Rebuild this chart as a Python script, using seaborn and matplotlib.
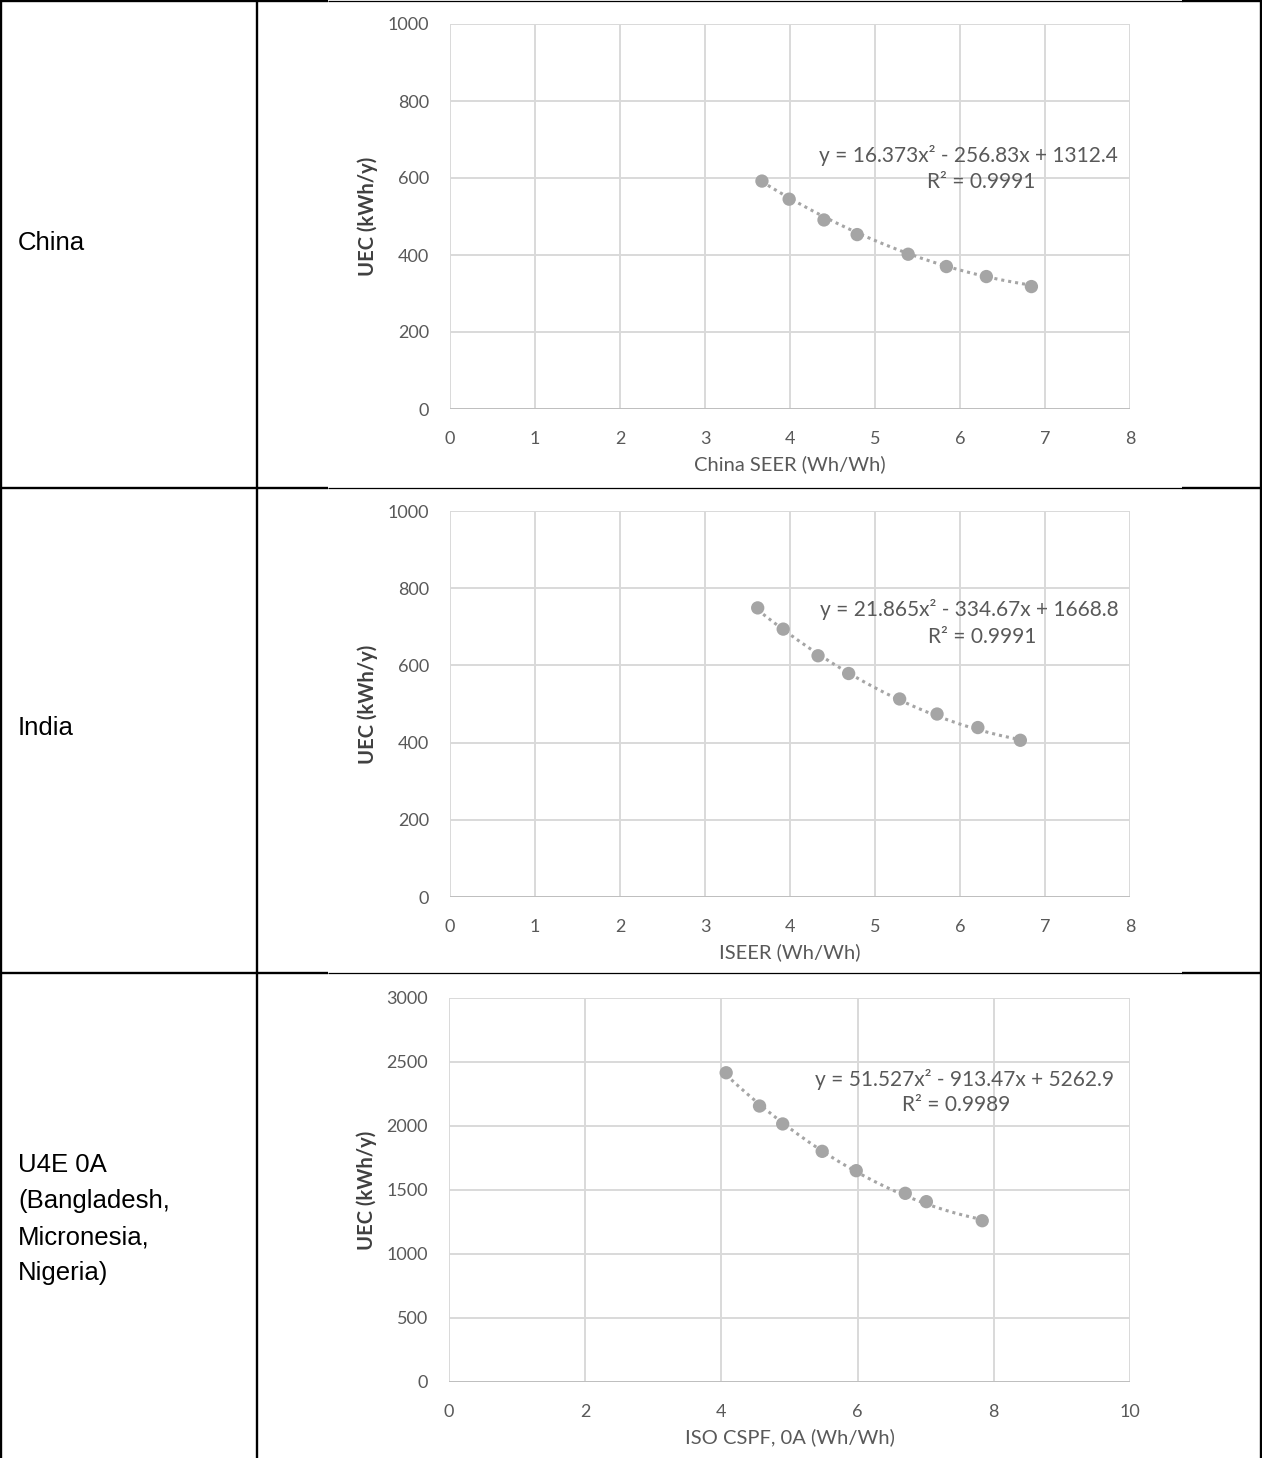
import numpy as np
import pandas as pd
import matplotlib
matplotlib.use("Agg")
import matplotlib.pyplot as plt
from matplotlib.lines import Line2D
import seaborn as sns

# ---- data -----------------------------------------------------------------
row_labels = ["China", "India", "U4E 0A\n(Bangladesh,\nMicronesia,\nNigeria)"]
x_titles = ["China SEER (Wh/Wh)", "ISEER (Wh/Wh)", "ISO CSPF, 0A (Wh/Wh)"]
y_title = "UEC (kWh/y)"

china_seer = [3.67, 3.99, 4.40, 4.79, 5.39, 5.84, 6.31, 6.84]
china_uec = [592, 545, 491, 453, 402, 370, 344, 318]

india_iseer = [3.62, 3.92, 4.33, 4.69, 5.29, 5.73, 6.21, 6.71]
india_uec = [749, 694, 625, 579, 513, 474, 439, 406]

u4e_cspf = [4.07, 4.56, 4.90, 5.48, 5.98, 6.70, 7.01, 7.83]
u4e_uec = [2416, 2156, 2016, 1802, 1651, 1474, 1409, 1260]

# quadratic trendline coefficients (a, b, c) and R² for each panel
china_fit = [16.373, -256.83, 1312.4]
india_fit = [21.865, -334.67, 1668.8]
u4e_fit = [51.527, -913.47, 5262.9]
r_squared = ["0.9991", "0.9991", "0.9989"]

x_ticks = [list(range(0, 9)), list(range(0, 9)), list(range(0, 11, 2))]
y_ticks = [list(range(0, 1001, 200)), list(range(0, 1001, 200)), list(range(0, 3001, 500))]

panels = [
    (china_seer, china_uec, china_fit),
    (india_iseer, india_uec, india_fit),
    (u4e_cspf, u4e_uec, u4e_fit),
]

# ---- style ----------------------------------------------------------------
sns.set_theme(style="white")
plt.rcParams["font.family"] = ["Lato", "DejaVu Sans"]

W, H = 1262, 1458
fig = plt.figure(figsize=(W / 100, H / 100), dpi=100)


def fx(px):
    return px / W


def fy(py):
    return 1 - py / H


TEXT = "#595959"
GRID = "#d9d9d9"
MARK = "#a5a5a5"

# axes boxes in pixels: left, top, right, bottom
boxes = [(450, 24, 1130, 409), (450, 511, 1130, 897), (449, 998, 1130, 1382)]
eq_pos = [(968, 155, 981, 182), (969, 610, 982, 637), (964, 1080, 956, 1105)]
row_label_y = [243, 728, 1219]

for i, ((xs, ys, coef), (l, t, r, b)) in enumerate(zip(panels, boxes)):
    ax = fig.add_axes([fx(l), fy(b), fx(r) - fx(l), fy(t) - fy(b)])
    df = pd.DataFrame({"x": xs, "y": ys})

    # trendline from the stated quadratic
    xt = np.linspace(min(xs), max(xs), 200)
    trend = pd.DataFrame({"x": xt, "y": np.polyval(coef, xt)})
    sns.lineplot(data=trend, x="x", y="y", ax=ax, color=MARK, lw=2.2,
                 linestyle=(0, (1, 1.3)), zorder=3)
    sns.scatterplot(data=df, x="x", y="y", ax=ax, color=MARK, s=92,
                    edgecolor="none", zorder=4)

    ax.set_xlim(x_ticks[i][0], x_ticks[i][-1])
    ax.set_ylim(y_ticks[i][0], y_ticks[i][-1])
    ax.set_xticks(x_ticks[i])
    ax.set_yticks(y_ticks[i])
    ax.grid(True, color=GRID, lw=1.4)
    for s in ax.spines.values():
        s.set_visible(False)
    ax.axhline(0, color="#bfbfbf", lw=1.4, zorder=2)
    ax.tick_params(length=0, labelsize=13, colors=TEXT)
    ax.tick_params(axis="y", pad=15)
    ax.tick_params(axis="x", pad=16)
    ax.set_xlabel(x_titles[i], fontsize=14.5, color=TEXT, labelpad=6)
    ax.set_ylabel(y_title, fontsize=14.5, color="#404040", labelpad=7,
                  fontweight="bold")

    a, bb, c = coef
    sign = "-" if bb < 0 else "+"
    eq = f"y = {a}x\u00b2 {sign} {abs(bb)}x + {c}"
    x1, y1, x2, y2 = eq_pos[i]
    fig.text(fx(x1), fy(y1), eq, ha="center", va="center", fontsize=15,
             color=TEXT)
    fig.text(fx(x2), fy(y2), f"R\u00b2 = {r_squared[i]}", ha="center",
             va="center", fontsize=15, color=TEXT)

    fig.text(fx(18), fy(row_label_y[i]), row_labels[i], ha="left",
             va="center", fontsize=18.5, family="Liberation Sans",
             color="black", linespacing=1.64)

# ---- table rules ----------------------------------------------------------
def hline(y, x0, x1, lw):
    fig.add_artist(Line2D([fx(x0), fx(x1)], [fy(y), fy(y)], color="black",
                          lw=lw, solid_capstyle="butt"))


def vline(x, y0, y1, lw):
    fig.add_artist(Line2D([fx(x), fx(x)], [fy(y0), fy(y1)], color="black",
                          lw=lw, solid_capstyle="butt"))


for y in (1.0, 487.5, 972.5):
    hline(y, 0, 328, 1.7)
    hline(y, 328, 1182, 0.9)
    hline(y, 1182, 1262, 1.7)

vline(1.2, 0, H, 1.7)
vline(257, 0, H, 1.7)
vline(1260.8, 0, H, 1.7)

fig.savefig("out.png", dpi=100)
